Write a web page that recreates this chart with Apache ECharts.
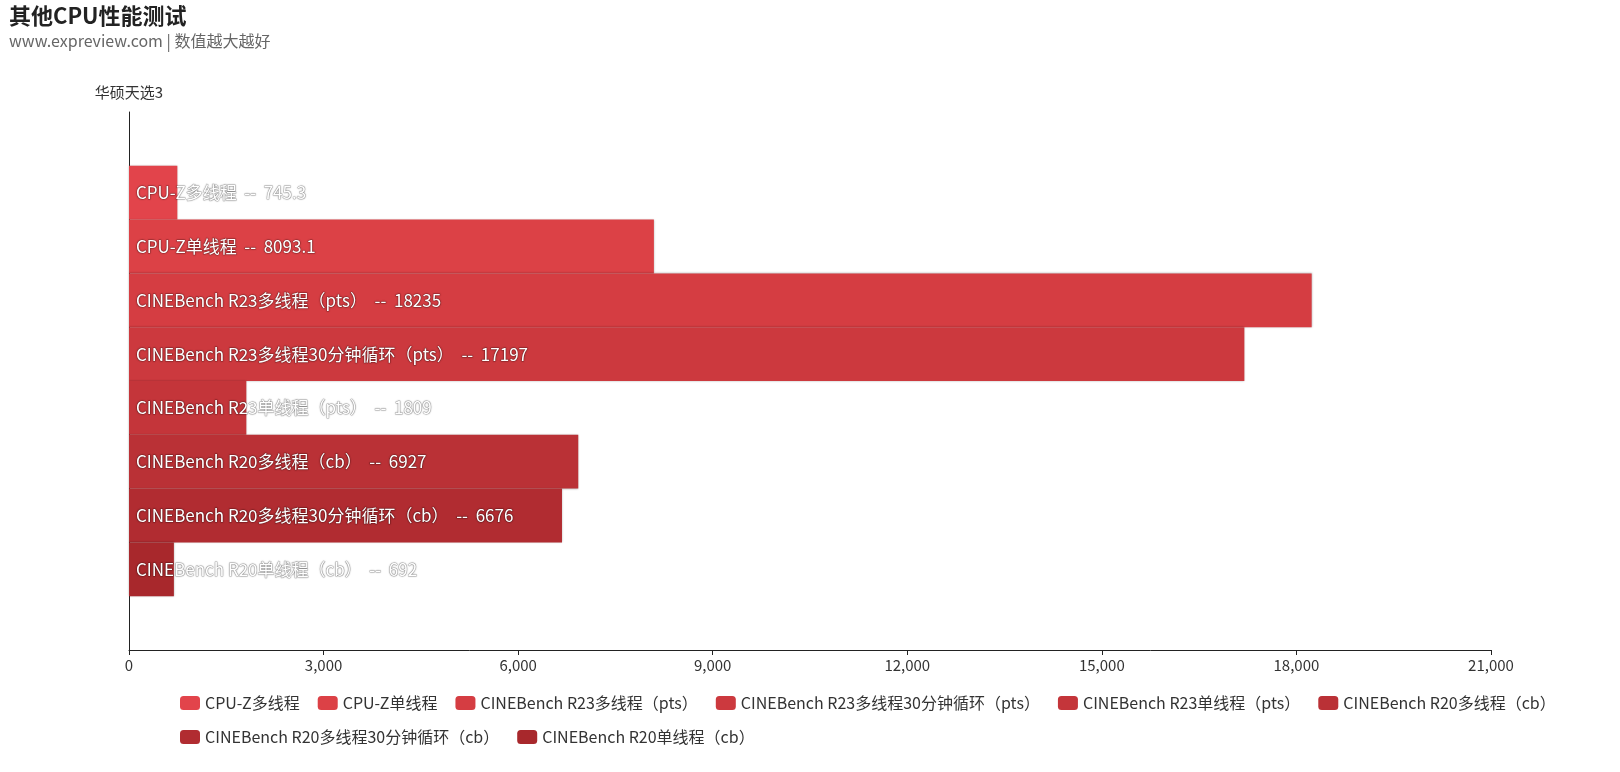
<!DOCTYPE html>
<html>
<head>
<meta charset="utf-8" />
<title></title>
<script src="https://cdn.jsdelivr.net/npm/echarts@6/dist/echarts.min.js"></script>
<style>
html, body { margin: 0; padding: 0; width: 100%; height: 100%; background: #fff; }
#chart { width: 1620px; height: 772px; }
</style>
</head>
<body>
<div id="chart"></div>
<script type="text/javascript">
var categories = ['华硕天选3'];
var seriesNames = ['CPU-Z多线程', 'CPU-Z单线程', 'CINEBench R23多线程（pts）', 'CINEBench R23多线程30分钟循环（pts）',
	'CINEBench R23单线程（pts）', 'CINEBench R20多线程（cb）', 'CINEBench R20多线程30分钟循环（cb）', 'CINEBench R20单线程（cb）'];
var seriesValues = [745.3, 8093.1, 18235, 17197, 1809, 6927, 6676, 692];
var colors = ['#e2444b', '#dc4146', '#d53d42', '#cc393e', '#c4353a', '#ba3136', '#b12c31', '#a8282c'];
var font = '"Noto Sans CJK SC", "Noto Sans", sans-serif';

var chart = echarts.init(document.getElementById('chart'));
var series = seriesNames.map(function(name, i) {
	return {
		name: name,
		type: 'bar',
		barGap: '0%',
		barCategoryGap: '20%',
		data: [seriesValues[i]],
		itemStyle: { color: colors[i], shadowColor: 'rgba(0,0,0,0.3)', shadowBlur: 2 },
		label: {
			show: true,
			position: 'insideLeft',
			offset: [2, 0],
			formatter: '{a}  --  {c}',
			color: '#fff',
			fontSize: 17,
			fontFamily: font,
			textBorderColor: 'rgba(0,0,0,0.25)',
			textBorderWidth: 1,
			textShadowColor: 'rgba(0,0,0,0.4)',
			textShadowBlur: 2
		}
	};
});

chart.setOption({
	animation: false,
	textStyle: { fontFamily: font },
	title: {
		text: '其他CPU性能测试',
		subtext: 'www.expreview.com | 数值越大越好',
		left: 4, top: 0,
		textStyle: { fontSize: 22, fontWeight: 'bold', color: '#222', fontFamily: font },
		subtextStyle: { fontSize: 16, color: '#666', fontFamily: font },
		itemGap: 6
	},
	legend: {
		bottom: 22, left: 175, right: 420,
		itemWidth: 20, itemHeight: 14, itemGap: 18,
		textStyle: { fontSize: 16, color: '#333', fontFamily: font },
		data: seriesNames
	},
	grid: { left: 129, right: 129, top: 112, bottom: 122 },
	xAxis: {
		type: 'value', min: 0, max: 21000, interval: 3000,
		axisLine: { show: true, lineStyle: { color: '#222' } },
		axisTick: { show: true, lineStyle: { color: '#222' } },
		axisLabel: { fontSize: 15, color: '#333' },
		splitLine: { show: false }
	},
	yAxis: {
		type: 'category', inverse: true, data: categories,
		name: '华硕天选3', nameLocation: 'start', nameGap: 12,
		nameTextStyle: { fontSize: 15, color: '#333' },
		axisLine: { lineStyle: { color: '#222' } },
		axisTick: { show: false },
		axisLabel: { show: false }
	},
	series: series
});
</script>
</body>
</html>
